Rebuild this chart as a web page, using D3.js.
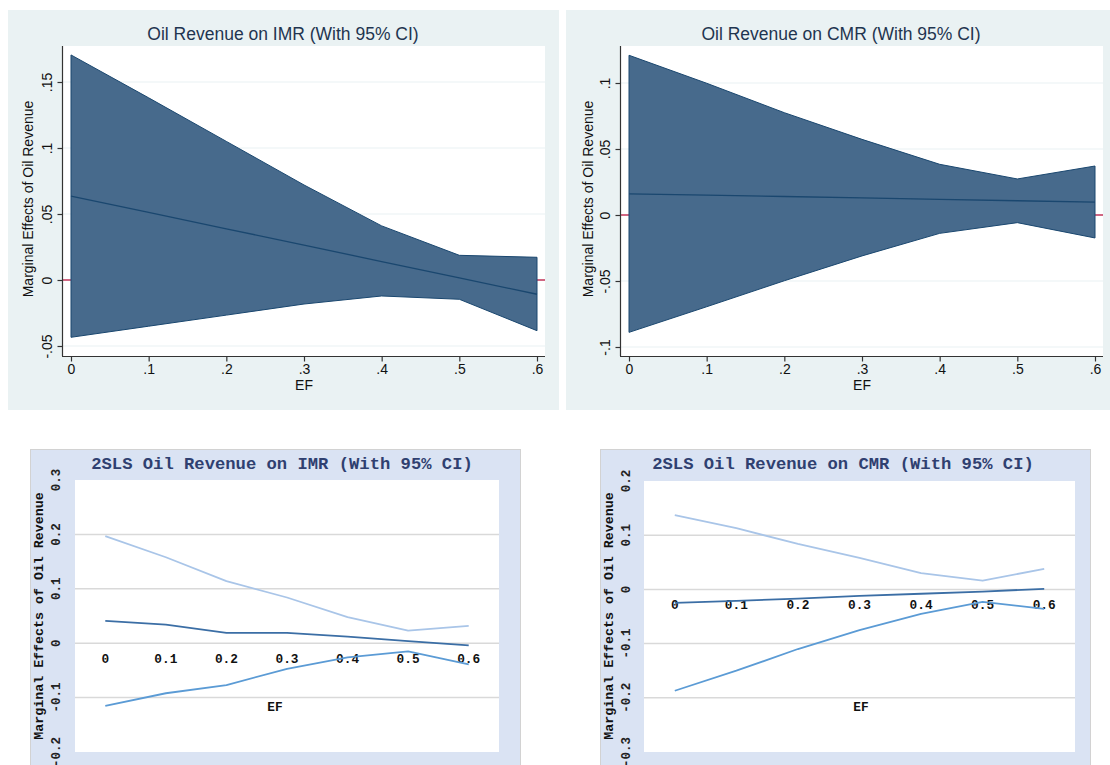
<!DOCTYPE html>
<html>
<head>
<meta charset="utf-8">
<script src="https://cdn.jsdelivr.net/npm/d3@7"></script>
<style>
  html, body { margin: 0; padding: 0; background: #ffffff; }
  svg { display: block; }
</style>
</head>
<body>
<svg id="chart" width="1110" height="765"></svg>
<script>
// ---------------- DATA ----------------
const ef = [0, 0.1, 0.2, 0.3, 0.4, 0.5, 0.6];
const efLabelsStata = ["0", ".1", ".2", ".3", ".4", ".5", ".6"];
const efLabelsExcel = ["0", "0.1", "0.2", "0.3", "0.4", "0.5", "0.6"];

// Top-left: Oil Revenue on IMR
const imrUpper = [0.1705, 0.138, 0.105, 0.072, 0.041, 0.0187, 0.0172];
const imrMid   = [0.0636, 0.0512, 0.0388, 0.0264, 0.014, 0.0016, -0.0108];
const imrLower = [-0.0434, -0.035, -0.0266, -0.0182, -0.0121, -0.0146, -0.0384];
const imrYTicks = [-0.05, 0, 0.05, 0.1, 0.15];
const imrYLabels = ["-.05", "0", ".05", ".1", ".15"];

// Top-right: Oil Revenue on CMR
const cmrUpper = [0.121, 0.0998, 0.0775, 0.0573, 0.0384, 0.0273, 0.0371];
const cmrMid   = [0.016, 0.015, 0.014, 0.013, 0.0119, 0.0108, 0.0098];
const cmrLower = [-0.0889, -0.0695, -0.0498, -0.031, -0.0139, -0.0058, -0.0174];
const cmrYTicks = [-0.1, -0.05, 0, 0.05, 0.1];
const cmrYLabels = ["-.1", "-.05", "0", ".05", ".1"];

// Bottom-left: 2SLS Oil Revenue on IMR
const slsImrUpper = [0.197, 0.158, 0.114, 0.084, 0.048, 0.023, 0.032];
const slsImrMid   = [0.041, 0.034, 0.019, 0.019, 0.012, 0.004, -0.004];
const slsImrLower = [-0.115, -0.092, -0.077, -0.047, -0.026, -0.015, -0.039];
const slsImrYTicks = [-0.2, -0.1, 0, 0.1, 0.2, 0.3];
const slsImrYLabels = ["-0.2", "-0.1", "0", "0.1", "0.2", "0.3"];

// Bottom-right: 2SLS Oil Revenue on CMR
const slsCmrUpper = [0.137, 0.113, 0.084, 0.058, 0.030, 0.016, 0.038];
const slsCmrMid   = [-0.025, -0.021, -0.017, -0.012, -0.008, -0.004, 0.001];
const slsCmrLower = [-0.187, -0.150, -0.110, -0.075, -0.045, -0.023, -0.036];
const slsCmrYTicks = [-0.3, -0.2, -0.1, 0, 0.1, 0.2];
const slsCmrYLabels = ["-0.3", "-0.2", "-0.1", "0", "0.1", "0.2"];

const yTitle = "Marginal Effects of Oil Revenue";
const xTitle = "EF";

// ---------------- DRAW ----------------
const svg = d3.select("#chart");
svg.append("rect").attr("width", 1110).attr("height", 765).attr("fill", "#ffffff");

const SANS = "'Liberation Sans', Arial, Helvetica, sans-serif";
const MONO = "'Liberation Mono', 'Courier New', monospace";

function stataPanel(o) {
  const g = svg.append("g");
  g.append("rect").attr("x", o.bg[0]).attr("y", o.bg[1]).attr("width", o.bg[2]).attr("height", o.bg[3])
    .attr("fill", "#eaf2f3");
  const [px0, py0, px1, py1] = o.plot;
  g.append("rect").attr("x", px0).attr("y", py0).attr("width", px1 - px0).attr("height", py1 - py0)
    .attr("fill", "#ffffff");

  const x = d3.scaleLinear().domain([0, 0.6]).range(o.xRange);
  const y = d3.scaleLinear().domain(o.yDomain).range(o.yRange);

  // gridlines
  g.selectAll(".grid").data(o.yTicks).enter().append("line")
    .attr("x1", px0).attr("x2", px1)
    .attr("y1", d => y(d)).attr("y2", d => y(d))
    .attr("stroke", "#eaf2f3").attr("stroke-width", 1.2);

  // zero reference line
  g.append("line").attr("x1", px0).attr("x2", px1).attr("y1", y(0)).attr("y2", y(0))
    .attr("stroke", "#c4365a").attr("stroke-width", 1.6);

  const pts = ef.map((e, i) => ({ e, lo: o.lower[i], hi: o.upper[i], m: o.mid[i] }));
  const area = d3.area().x(d => x(d.e)).y0(d => y(d.lo)).y1(d => y(d.hi));
  g.append("path").datum(pts).attr("d", area)
    .attr("fill", "#476a8c").attr("stroke", "#1a476f").attr("stroke-width", 1);
  const line = d3.line().x(d => x(d.e)).y(d => y(d.m));
  g.append("path").datum(pts).attr("d", line)
    .attr("fill", "none").attr("stroke", "#1a476f").attr("stroke-width", 1.3);

  // axis lines
  g.append("line").attr("x1", px0 - 0.5).attr("x2", px0 - 0.5).attr("y1", py0).attr("y2", py1)
    .attr("stroke", "#333").attr("stroke-width", 1.2);
  g.append("line").attr("x1", px0 - 1).attr("x2", px1).attr("y1", py1 + 0.5).attr("y2", py1 + 0.5)
    .attr("stroke", "#333").attr("stroke-width", 1.2);

  // y axis
  const yAxis = d3.axisLeft(y).tickValues(o.yTicks).tickSize(5)
    .tickFormat((d, i) => o.yLabels[i]);
  const ya = g.append("g").attr("transform", `translate(${px0 - 0.5},0)`).call(yAxis);
  ya.select(".domain").remove();
  ya.selectAll(".tick line").attr("stroke", "#333").attr("stroke-width", 1.2);
  ya.selectAll(".tick text")
    .attr("x", null).attr("dy", null)
    .attr("transform", "translate(-10.5,0) rotate(-90)")
    .attr("text-anchor", "middle")
    .attr("fill", "#111").style("font-family", SANS).style("font-size", "14px");

  // x axis
  const xAxis = d3.axisBottom(x).tickValues(ef).tickSize(5)
    .tickFormat((d, i) => efLabelsStata[i]);
  const xa = g.append("g").attr("transform", `translate(0,${py1 + 0.5})`).call(xAxis);
  xa.select(".domain").remove();
  xa.selectAll(".tick line").attr("stroke", "#333").attr("stroke-width", 1.2);
  xa.selectAll(".tick text").attr("y", 8).attr("dy", "0.71em")
    .attr("fill", "#111").style("font-family", SANS).style("font-size", "14px");

  // titles
  g.append("text").attr("x", o.titleX).attr("y", 39.5).attr("text-anchor", "middle")
    .attr("fill", "#1f3550").style("font-family", SANS).style("font-size", "17.5px").text(o.title);
  g.append("text").attr("x", (o.xRange[0] + o.xRange[1]) / 2).attr("y", 390).attr("text-anchor", "middle")
    .attr("fill", "#111").style("font-family", SANS).style("font-size", "14px").text(xTitle);
  g.append("text").attr("transform", `translate(${o.yTitleX},${(py0 + py1) / 2 - 2}) rotate(-90)`)
    .attr("text-anchor", "middle")
    .attr("fill", "#111").style("font-family", SANS).style("font-size", "14px").text(yTitle);
}

function excelPanel(o) {
  const g = svg.append("g");
  g.append("rect").attr("x", o.bg[0] + 0.5).attr("y", o.bg[1] + 0.5).attr("width", o.bg[2]).attr("height", o.bg[3])
    .attr("fill", "#dae3f3").attr("stroke", "#d2d2d2").attr("stroke-width", 1);
  const [px0, py0, px1, py1] = o.plot;
  g.append("rect").attr("x", px0).attr("y", py0).attr("width", px1 - px0).attr("height", py1 - py0)
    .attr("fill", "#ffffff");

  const x = d3.scalePoint().domain(ef).range([px0, px1]).padding(0.5);
  const y = d3.scaleLinear().domain(o.yDomain).range([py1, py0]);

  g.selectAll(".grid").data(o.yTicks.filter(d => y(d) > py0 + 1 && y(d) < py1 - 1)).enter().append("line")
    .attr("x1", px0).attr("x2", px1)
    .attr("y1", d => y(d)).attr("y2", d => y(d))
    .attr("stroke", "#d9d9d9").attr("stroke-width", 1.5);

  const series = [
    { v: o.upper, c: "#a9c5e8" },
    { v: o.mid, c: "#3b6ea5" },
    { v: o.lower, c: "#5b9bd5" }
  ];
  const line = d3.line().x(d => x(d.e)).y(d => y(d.v));

  // x-axis labels next to the zero line
  g.selectAll(".xl").data(ef).enter().append("text")
    .attr("x", d => x(d)).attr("y", y(0) + 19.5).attr("text-anchor", "middle")
    .attr("fill", "#111").style("font-family", MONO).style("font-weight", "bold").style("font-size", "12.8px")
    .text((d, i) => efLabelsExcel[i]);

  series.forEach(s => {
    g.append("path").datum(ef.map((e, i) => ({ e, v: s.v[i] })))
      .attr("d", line).attr("fill", "none").attr("stroke", s.c).attr("stroke-width", 1.8)
      .attr("stroke-linejoin", "round");
  });

  // y tick labels
  g.selectAll(".yl").data(o.yTicks).enter().append("text")
    .attr("transform", d => `translate(${o.yLabelX},${y(d)}) rotate(-90)`)
    .attr("text-anchor", "middle")
    .attr("fill", "#222").style("font-family", MONO).style("font-weight", "bold").style("font-size", "12.5px")
    .text((d, i) => o.yLabels[i]);

  g.append("text").attr("x", o.titleX).attr("y", 469).attr("text-anchor", "middle")
    .attr("fill", "#2f4070").style("font-family", MONO).style("font-weight", "bold").style("font-size", "17.2px")
    .text(o.title);
  g.append("text").attr("x", o.efX).attr("y", 711).attr("text-anchor", "middle")
    .attr("fill", "#111").style("font-family", MONO).style("font-weight", "bold").style("font-size", "12.8px")
    .text(xTitle);
  g.append("text").attr("transform", `translate(${o.yTitleX},616) rotate(-90)`)
    .attr("text-anchor", "middle")
    .attr("fill", "#111").style("font-family", MONO).style("font-weight", "bold").style("font-size", "13.3px")
    .text(yTitle);
}

stataPanel({
  bg: [8, 10, 551, 400], plot: [63, 46, 545, 356],
  xRange: [71, 537], yDomain: [-0.05, 0.15], yRange: [346, 82],
  upper: imrUpper, mid: imrMid, lower: imrLower,
  yTicks: imrYTicks, yLabels: imrYLabels,
  title: "Oil Revenue on IMR (With 95% CI)", titleX: 283, yTitleX: 33
});

stataPanel({
  bg: [566, 10, 544, 400], plot: [621, 46, 1103, 356],
  xRange: [629, 1095], yDomain: [-0.1, 0.1], yRange: [347, 83],
  upper: cmrUpper, mid: cmrMid, lower: cmrLower,
  yTicks: cmrYTicks, yLabels: cmrYLabels,
  title: "Oil Revenue on CMR (With 95% CI)", titleX: 841, yTitleX: 593
});

excelPanel({
  bg: [30, 449, 490, 330], plot: [75, 480, 499, 752],
  yDomain: [-0.2, 0.3],
  upper: slsImrUpper, mid: slsImrMid, lower: slsImrLower,
  yTicks: slsImrYTicks, yLabels: slsImrYLabels,
  title: "2SLS Oil Revenue on IMR (With 95% CI)", titleX: 282, efX: 275,
  yLabelX: 60, yTitleX: 43.3
});

excelPanel({
  bg: [600, 449, 490, 330], plot: [644, 481, 1075, 752],
  yDomain: [-0.3, 0.2],
  upper: slsCmrUpper, mid: slsCmrMid, lower: slsCmrLower,
  yTicks: slsCmrYTicks, yLabels: slsCmrYLabels,
  title: "2SLS Oil Revenue on CMR (With 95% CI)", titleX: 843, efX: 861,
  yLabelX: 630, yTitleX: 613
});
</script>
</body>
</html>
